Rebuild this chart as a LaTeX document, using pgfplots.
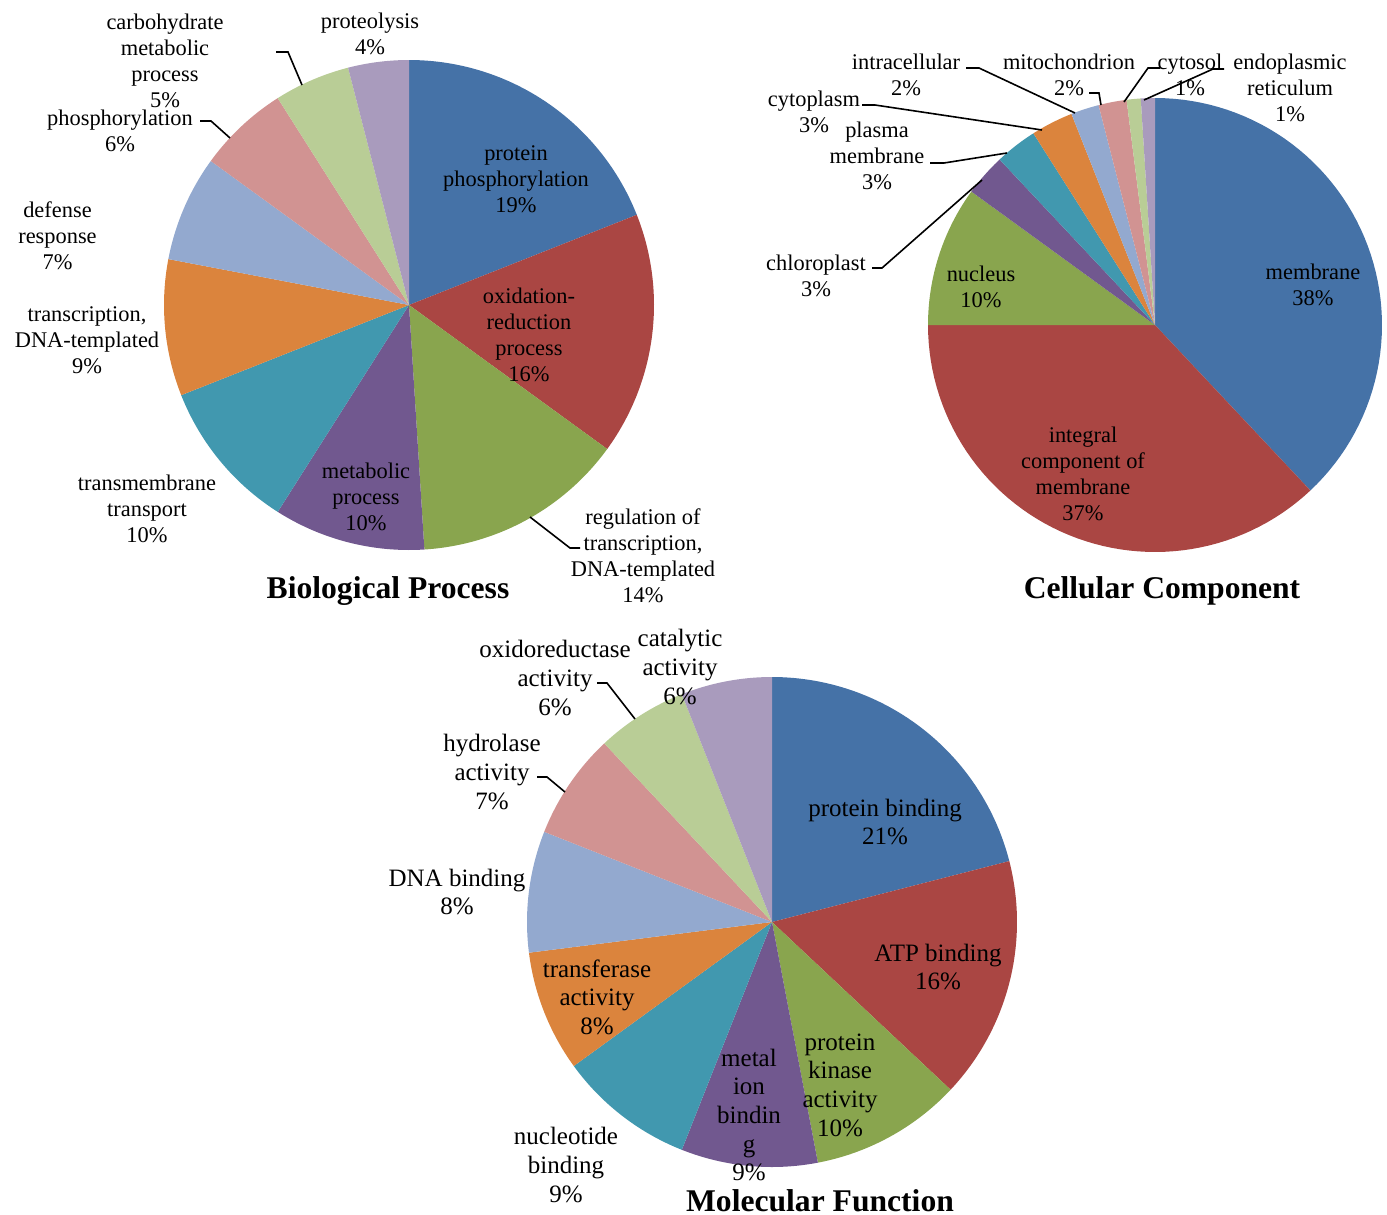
\documentclass[border=0pt]{standalone}
\usepackage{fontspec}
\setmainfont{Liberation Serif}
\usepackage{pgfplots}
\pgfplotsset{compat=1.18}

% Excel-style slice palette
\definecolor{s1}{HTML}{4572A7}
\definecolor{s2}{HTML}{AA4643}
\definecolor{s3}{HTML}{89A54E}
\definecolor{s4}{HTML}{71588F}
\definecolor{s5}{HTML}{4198AF}
\definecolor{s6}{HTML}{DB843D}
\definecolor{s7}{HTML}{93A9CF}
\definecolor{s8}{HTML}{D19392}
\definecolor{s9}{HTML}{B9CD96}
\definecolor{s10}{HTML}{A99BBD}

% pie centre (x, y) and radius; slices then run clockwise from 12 o'clock
\newcommand\piestart[3]{\gdef\pcx{#1}\gdef\pcy{#2}\gdef\prad{#3}\gdef\pacc{0}}
% one slice: share in percent, colour
\newcommand\slice[2]{%
  \pgfmathsetmacro\pa{\pacc}%
  \pgfmathsetmacro\pb{\pacc+#1}%
  \edef\doslice{\noexpand\addplot[draw=none, fill=#2, domain=\pa:\pb, samples=60, variable=\noexpand\t]
    ({\pcx+\prad*sin(3.6*\noexpand\t)}, {\pcy-\prad*cos(3.6*\noexpand\t)}) -- (axis cs:\pcx,\pcy) -- cycle;}%
  \doslice
  \xdef\pacc{\pb}%
}
\newcommand\leader[1]{\addplot[black, line width=0.8pt] coordinates {#1};}

\tikzset{
  lb/.style={align=center, inner sep=0pt, font=\fontsize{11.2}{13}\selectfont},
  lm/.style={align=center, inner sep=0pt, font=\fontsize{12.5}{14.3}\selectfont},
  ttl/.style={inner sep=0pt, anchor=base, font=\fontsize{15.8}{18}\selectfont\bfseries},
}

\begin{document}
\begin{tikzpicture}
\begin{axis}[
  scale only axis, width=693.5pt, height=607.5pt,
  xmin=0, xmax=1387, ymin=0, ymax=1215, y dir=reverse,
  hide axis, clip=false]

% ---- Biological Process ----
\piestart{409}{305}{245}
\slice{19}{s1}\slice{16}{s2}\slice{14}{s3}\slice{10}{s4}\slice{10}{s5}
\slice{9}{s6}\slice{7}{s7}\slice{6}{s8}\slice{5}{s9}\slice{4}{s10}

% ---- Cellular Component ----
\piestart{1155}{325}{227}
\slice{38}{s1}\slice{37}{s2}\slice{10}{s3}\slice{3}{s4}\slice{3}{s5}
\slice{3}{s6}\slice{2}{s7}\slice{2}{s8}\slice{1}{s9}\slice{1}{s10}

% ---- Molecular Function ----
\piestart{772}{922}{245}
\slice{21}{s1}\slice{16}{s2}\slice{10}{s3}\slice{9}{s4}\slice{9}{s5}
\slice{8}{s6}\slice{8}{s7}\slice{7}{s8}\slice{6}{s9}\slice{6}{s10}

% leader lines
\leader{(276,52) (288,52) (302,85)}
\leader{(200,121) (211,121) (230,138)}
\leader{(580,548) (570,548) (530,517)}
\leader{(872,268) (882,268) (982,180)}
\leader{(930,163) (944,163) (1007,153)}
\leader{(862,105) (875,105) (1042,130)}
\leader{(966,68) (979,68) (1075,113)}
\leader{(1089,93) (1099,93) (1101,105)}
\leader{(1160,68) (1148,68) (1124,102)}
\leader{(1224,69) (1213,69) (1144,100)}
\leader{(597,683) (607,683) (635,719)}
\leader{(537,777) (547,777) (565,792)}

% Biological Process labels
\node[lb] at (axis cs:516,179) {protein\\phosphorylation\\19\%};
\node[lb] at (axis cs:529,335) {oxidation-\\reduction\\process\\16\%};
\node[lb] at (axis cs:643,556) {regulation of\\transcription,\\DNA-templated\\14\%};
\node[lb] at (axis cs:366,497) {metabolic\\process\\10\%};
\node[lb] at (axis cs:147,509) {transmembrane\\transport\\10\%};
\node[lb] at (axis cs:87,340) {transcription,\\DNA-templated\\9\%};
\node[lb] at (axis cs:57.5,236) {defense\\response\\7\%};
\node[lb] at (axis cs:120,131) {phosphorylation\\6\%};
\node[lb] at (axis cs:165,61) {carbohydrate\\metabolic\\process\\5\%};
\node[lb] at (axis cs:370,34) {proteolysis\\4\%};
\node[ttl] at (axis cs:388,598) {Biological Process};

% Cellular Component labels
\node[lb] at (axis cs:1313,285) {membrane\\38\%};
\node[lb] at (axis cs:1083,474) {integral\\component of\\membrane\\37\%};
\node[lb] at (axis cs:981,287) {nucleus\\10\%};
\node[lb] at (axis cs:816,276) {chloroplast\\3\%};
\node[lb] at (axis cs:877,156) {plasma\\membrane\\3\%};
\node[lb] at (axis cs:814,112) {cytoplasm\\3\%};
\node[lb] at (axis cs:906,75) {intracellular\\2\%};
\node[lb] at (axis cs:1069,75) {mitochondrion\\2\%};
\node[lb] at (axis cs:1190,75) {cytosol\\1\%};
\node[lb] at (axis cs:1290,88) {endoplasmic\\reticulum\\1\%};
\node[ttl] at (axis cs:1162,598) {Cellular Component};

% Molecular Function labels
\node[lm] at (axis cs:885,822) {protein binding\\21\%};
\node[lm] at (axis cs:938,967) {ATP binding\\16\%};
\node[lm] at (axis cs:840,1085) {protein\\kinase\\activity\\10\%};
\node[lm] at (axis cs:749,1115) {metal\\ion\\bindin\\g\\9\%};
\node[lm] at (axis cs:566,1165) {nucleotide\\binding\\9\%};
\node[lm] at (axis cs:597,997) {transferase\\activity\\8\%};
\node[lm] at (axis cs:457,892) {DNA binding\\8\%};
\node[lm] at (axis cs:492,772) {hydrolase\\activity\\7\%};
\node[lm] at (axis cs:555,678) {oxidoreductase\\activity\\6\%};
\node[lm] at (axis cs:680,667) {catalytic\\activity\\6\%};
\node[ttl] at (axis cs:820,1211) {Molecular Function};
\end{axis}
\pgfresetboundingbox
\path[use as bounding box] (current axis.south west) rectangle (current axis.north east);
\end{tikzpicture}
\end{document}
